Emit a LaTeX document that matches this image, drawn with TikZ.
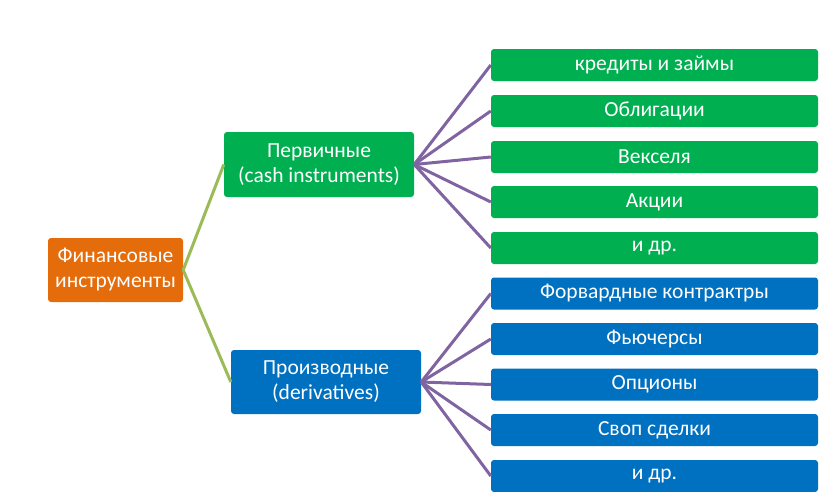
\documentclass[tikz,border=0pt]{standalone}
\usepackage{fontspec}
\setmainfont{Carlito}
\definecolor{fin}{RGB}{228,108,10}
\definecolor{grn}{RGB}{0,176,80}
\definecolor{blu}{RGB}{0,112,192}
\definecolor{lnk}{RGB}{128,100,162}
\definecolor{lnkA}{RGB}{155,187,89}
\begin{document}
\begin{tikzpicture}[x=1pt,y=-1pt]
  \tikzstyle{box}=[rounded corners=3pt,text=white,align=center,inner sep=0pt,
    font=\fontsize{21.5}{25}\selectfont]
  \tikzstyle{item}=[box,minimum width=327pt,minimum height=32pt]
  \tikzstyle{link}=[line width=3pt,lnk]
  \useasboundingbox (0,0) rectangle (832,491);

  \node[box,fill=fin,minimum width=135pt,minimum height=64pt] (F) at (115.5,270)
        {Финансовые\\инструменты};
  \node[box,fill=grn,minimum width=190pt,minimum height=65pt] (P) at (319,164.5)
        {Первичные\\(cash instruments)};
  \node[box,fill=blu,minimum width=190pt,minimum height=64pt] (D) at (326,382)
        {Производные\\(derivatives)};
  \draw[line width=3pt,lnkA] (P.west) -- (F.east) -- (D.west);

  \node[item,fill=grn] (P_1) at (654.5,65)  {кредиты и займы};
  \node[item,fill=grn] (P_2) at (654.5,111) {Облигации};
  \node[item,fill=grn] (P_3) at (654.5,157) {Векселя};
  \node[item,fill=grn] (P_4) at (654.5,202) {Акции};
  \node[item,fill=grn] (P_5) at (654.5,248) {и др.};
  \draw[link] (P.east) -- (P_1.west);
  \draw[link] (P.east) -- (P_2.west);
  \draw[link] (P.east) -- (P_3.west);
  \draw[link] (P.east) -- (P_4.west);
  \draw[link] (P.east) -- (P_5.west);

  \node[item,fill=blu] (D_1) at (654.5,293.5) {Форвардные контрактры};
  \node[item,fill=blu] (D_2) at (654.5,339)   {Фьючерсы};
  \node[item,fill=blu] (D_3) at (654.5,384.5) {Опционы};
  \node[item,fill=blu] (D_4) at (654.5,430)   {Своп сделки};
  \node[item,fill=blu] (D_5) at (654.5,476)   {и др.};
  \draw[link] (D.east) -- (D_1.west);
  \draw[link] (D.east) -- (D_2.west);
  \draw[link] (D.east) -- (D_3.west);
  \draw[link] (D.east) -- (D_4.west);
  \draw[link] (D.east) -- (D_5.west);
\end{tikzpicture}
\end{document}
